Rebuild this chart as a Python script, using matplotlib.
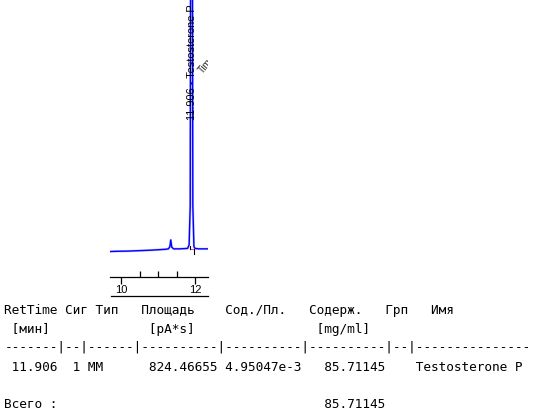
import matplotlib
matplotlib.use("Agg")
import matplotlib.pyplot as plt
from matplotlib.lines import Line2D

# chromatogram trace (min, pA)
rt = [9.70, 9.90, 10.20, 10.50, 10.80, 11.00, 11.20, 11.28, 11.32, 11.345, 11.37, 11.42,
      11.60, 11.80, 11.84, 11.87, 11.89, 11.906, 11.92, 11.94, 11.97, 12.00, 12.10, 12.35]
signal = [-0.15, -0.12, -0.10, -0.05, 0.0, 0.05, 0.10, 0.15, 0.40, 1.15, 0.35, 0.15,
          0.15, 0.20, 0.60, 5.0, 60.0, 160.0, 60.0, 5.0, 0.40, 0.20, 0.15, 0.15]

peak_rt = 11.906
peak_name = "Testosterone P"
peak_start, peak_end = 11.86, 11.97

major_ticks = [10, 12]
minor_ticks = [10.5, 11, 11.5]

# report table
header1 = "RetTime Сиг Тип   Площадь    Сод./Пл.   Содерж.   Грп   Имя"
header2 = " [мин]             [pA*s]                [mg/ml]"
separator = "-------|--|------|----------|----------|----------|--|---------------"
row_values = ["11.906", "1", "MM", "824.46655", "4.95047e-3", "85.71145", "Testosterone P"]
total_label = "Всего :"
total_value = "85.71145"

W, H = 541, 419
fig = plt.figure(figsize=(W / 100, H / 100), dpi=100)

ax = fig.add_axes([110 / W, (H - 277) / H, 98 / W, 277 / H])
ax.plot(rt, signal, color="#8080ff", lw=1.7, alpha=0.45, solid_joinstyle="round")
ax.plot(rt, signal, color="#0000ff", lw=1.0)
# integration baseline and markers
ax.plot([peak_start, peak_end], [0.15, 0.15], color="#ff44cc", lw=0.8)
ax.plot([peak_start, peak_start], [0.1, 0.5], color="black", lw=0.8)
ax.plot([peak_end, peak_end], [-0.4, 0.15], color="black", lw=0.8)

ax.set_xlim(9.703, 12.35)
ax.set_ylim(-3, 28)
for s in ["left", "right", "top"]:
    ax.spines[s].set_visible(False)
ax.spines["bottom"].set_linewidth(0.9)
ax.set_yticks([])
ax.set_xticks(major_ticks)
ax.set_xticks(minor_ticks, minor=True)
ax.set_xticklabels([str(t) for t in major_ticks], family="Liberation Sans", fontsize=8)
ax.tick_params(axis="x", which="major", direction="out", length=5, width=0.9, pad=1)
ax.tick_params(axis="x", which="minor", direction="in", length=4, width=0.9)

ax.text(peak_rt, 14.6, f"{peak_rt:.3f} - {peak_name}", rotation=90, ha="center", va="bottom",
        fontsize=7.9, family="Liberation Sans", clip_on=True)
ax.text(peak_rt + 0.14, 19.6, "Time", rotation=50, ha="left", va="bottom",
        fontsize=7, family="Liberation Sans", color="#222222", clip_on=True)

fig.add_artist(Line2D([111 / W, 208 / W], [(H - 296) / H] * 2, color="black", lw=0.9))

# report text in a fixed grid of monospaced columns
mono = dict(family="DejaVu Sans Mono", fontsize=9.2, va="baseline", ha="left")
x0 = 4.3 / W


def line_y(px):
    return (H - px) / H


data_row = (f" {row_values[0]} {row_values[1]:>2} {row_values[2]}      {row_values[3]}"
            f" {row_values[4]}   {row_values[5]}    {row_values[6]}")
total_row = f"{total_label:<42}{total_value}"

fig.text(x0, line_y(314), header1, **mono)
fig.text(x0, line_y(333), header2, **mono)
fig.text(x0, line_y(350), separator, **mono)
fig.text(x0, line_y(371), data_row, **mono)
fig.text(x0, line_y(408), total_row, **mono)

fig.savefig("out.png", dpi=100)
